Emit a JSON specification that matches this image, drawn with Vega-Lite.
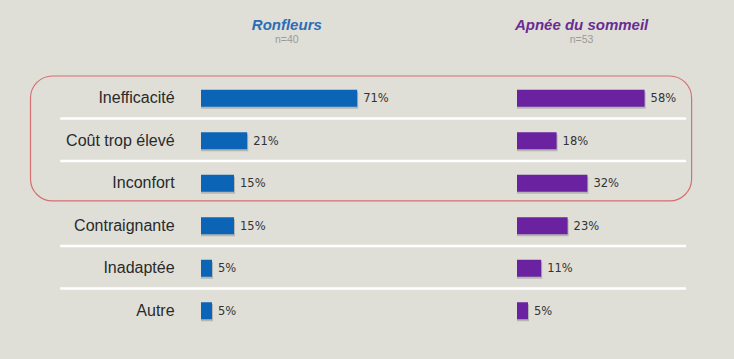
{
  "$schema": "https://vega.github.io/schema/vega-lite/v6.json",
  "width": 734,
  "height": 359,
  "padding": 0,
  "autosize": {"type": "none"},
  "background": "#dfdfd8",
  "config": {"view": {"stroke": null}, "font": "Liberation Sans"},
  "datasets": {
    "rows": [
      {"cat": "Inefficacité", "ronfleurs": 71, "apnee": 58},
      {"cat": "Coût trop élevé", "ronfleurs": 21, "apnee": 18},
      {"cat": "Inconfort", "ronfleurs": 15, "apnee": 32},
      {"cat": "Contraignante", "ronfleurs": 15, "apnee": 23},
      {"cat": "Inadaptée", "ronfleurs": 5, "apnee": 11},
      {"cat": "Autre", "ronfleurs": 5, "apnee": 5}
    ]
  },
  "resolve": {"scale": {"x": "independent", "y": "independent"}},
  "layer": [
    {
      "data": {"name": "rows"},
      "transform": [{"filter": "datum.cat !== 'Autre' && datum.cat !== 'Inconfort'"}],
      "mark": {"type": "rule", "color": "#ffffff", "strokeWidth": 2.5},
      "encoding": {
        "y": {"field": "cat", "type": "nominal", "bandPosition": 1,
              "scale": {"type": "band", "domain": ["Inefficacité", "Coût trop élevé", "Inconfort", "Contraignante", "Inadaptée", "Autre"], "range": [76, 331], "paddingInner": 0, "paddingOuter": 0}, "axis": null},
        "x": {"datum": -64, "type": "quantitative", "scale": {"domain": [0, 100], "range": [201, 421]}, "axis": null},
        "x2": {"datum": 220.5}
      }
    },
    {
      "data": {"values": [{"frame": "highlight"}]},
      "mark": {"type": "rect", "fill": null, "fillOpacity": 0, "stroke": "#d47070", "strokeWidth": 1.2, "cornerRadius": 22},
      "encoding": {
        "y": {"datum": "Inefficacité", "type": "nominal", "bandPosition": 0,
              "scale": {"type": "band", "domain": ["Inefficacité", "Coût trop élevé", "Inconfort", "Contraignante", "Inadaptée", "Autre"], "range": [76, 331], "paddingInner": 0, "paddingOuter": 0}, "axis": null},
        "y2": {"datum": "Inconfort", "bandPosition": 0.94},
        "x": {"datum": -77.5, "type": "quantitative", "scale": {"domain": [0, 100], "range": [201, 421]}, "axis": null},
        "x2": {"datum": 223}
      }
    },
    {
      "data": {"name": "rows"},
      "transform": [{"calculate": "datum.ronfleurs + '%'", "as": "lab"}],
      "layer": [
        {
          "mark": {"type": "bar", "height": 17, "color": "#3a3a3a", "opacity": 0.25, "xOffset": 1, "yOffset": 3},
          "encoding": {"x": {"field": "ronfleurs", "type": "quantitative"}, "x2": {"datum": 0}}
        },
        {
          "mark": {"type": "bar", "height": 17, "color": "#0b64b6", "yOffset": 1},
          "encoding": {"x": {"field": "ronfleurs", "type": "quantitative"}, "x2": {"datum": 0}}
        },
        {
          "mark": {"type": "text", "align": "left", "baseline": "middle", "dx": 6, "dy": 2, "fontSize": 11.5, "font": "DejaVu Sans", "color": "#333333"},
          "encoding": {"x": {"field": "ronfleurs", "type": "quantitative"}, "text": {"field": "lab", "type": "nominal"}}
        },
        {
          "mark": {"type": "text", "align": "right", "baseline": "middle", "dy": 1, "fontSize": 16, "color": "#2a2a2a"},
          "encoding": {"x": {"datum": -12}, "text": {"field": "cat", "type": "nominal"}}
        }
      ],
      "encoding": {
        "y": {"field": "cat", "type": "nominal",
              "scale": {"type": "band", "domain": ["Inefficacité", "Coût trop élevé", "Inconfort", "Contraignante", "Inadaptée", "Autre"], "range": [76, 331], "paddingInner": 0, "paddingOuter": 0}, "axis": null},
        "x": {"type": "quantitative", "scale": {"domain": [0, 100], "range": [201, 421]}, "axis": null}
      }
    },
    {
      "data": {"name": "rows"},
      "transform": [{"calculate": "datum.apnee + '%'", "as": "lab"}],
      "layer": [
        {
          "mark": {"type": "bar", "height": 17, "color": "#3a3a3a", "opacity": 0.25, "xOffset": 1, "yOffset": 3},
          "encoding": {"x": {"field": "apnee", "type": "quantitative"}, "x2": {"datum": 0}}
        },
        {
          "mark": {"type": "bar", "height": 17, "color": "#6a22a0", "yOffset": 1},
          "encoding": {"x": {"field": "apnee", "type": "quantitative"}, "x2": {"datum": 0}}
        },
        {
          "mark": {"type": "text", "align": "left", "baseline": "middle", "dx": 6, "dy": 2, "fontSize": 11.5, "font": "DejaVu Sans", "color": "#333333"},
          "encoding": {"x": {"field": "apnee", "type": "quantitative"}, "text": {"field": "lab", "type": "nominal"}}
        }
      ],
      "encoding": {
        "y": {"field": "cat", "type": "nominal",
              "scale": {"type": "band", "domain": ["Inefficacité", "Coût trop élevé", "Inconfort", "Contraignante", "Inadaptée", "Autre"], "range": [76, 331], "paddingInner": 0, "paddingOuter": 0}, "axis": null},
        "x": {"type": "quantitative", "scale": {"domain": [0, 100], "range": [517, 737]}, "axis": null}
      }
    },
    {
      "data": {"values": [
        {"group": "Ronfleurs", "line": "title", "text": "Ronfleurs", "pos": 39},
        {"group": "Ronfleurs", "line": "n", "text": "n=40", "pos": 39},
        {"group": "Apnée du sommeil", "line": "title", "text": "Apnée du sommeil", "pos": 173},
        {"group": "Apnée du sommeil", "line": "n", "text": "n=53", "pos": 173}
      ]},
      "layer": [
        {
          "transform": [{"filter": "datum.line === 'title'"}],
          "mark": {"type": "text", "align": "center", "baseline": "middle", "fontSize": 15, "fontWeight": "bold", "fontStyle": "italic"},
          "encoding": {
            "color": {"field": "group", "type": "nominal", "scale": {"domain": ["Ronfleurs", "Apnée du sommeil"], "range": ["#2d6db5", "#6a2c92"]}, "legend": null}
          }
        },
        {
          "transform": [{"filter": "datum.line === 'n'"}],
          "mark": {"type": "text", "align": "center", "baseline": "middle", "fontSize": 10.5, "color": "#9a9a9a"}
        }
      ],
      "encoding": {
        "x": {"field": "pos", "type": "quantitative", "scale": {"domain": [0, 100], "range": [201, 421]}, "axis": null},
        "y": {"field": "line", "type": "nominal", "scale": {"type": "point", "domain": ["title", "n"], "range": [25, 40], "padding": 0}, "axis": null},
        "text": {"field": "text", "type": "nominal"}
      }
    }
  ]
}
